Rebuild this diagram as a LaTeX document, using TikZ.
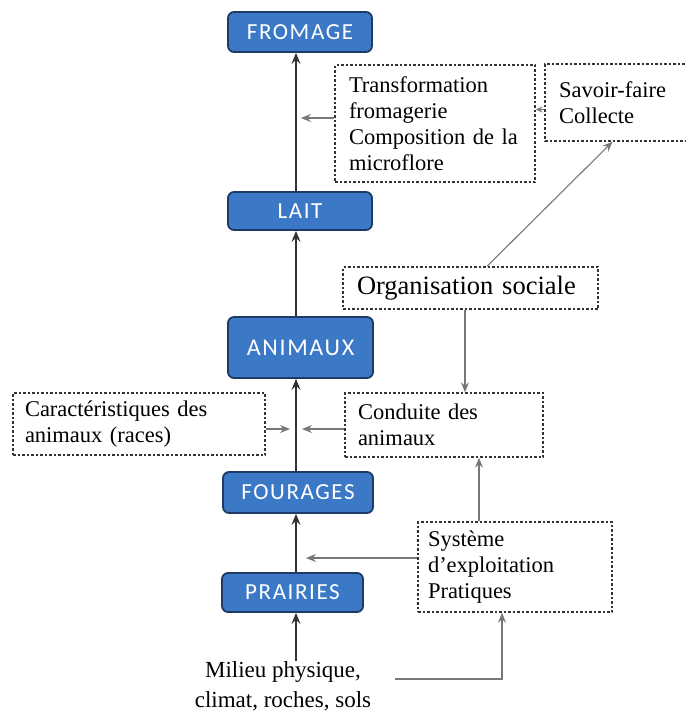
\documentclass[tikz,border=0pt]{standalone}
\usepackage{fontspec}
\setmainfont{Liberation Serif}
\newfontfamily\bluefont[LetterSpace=7]{Carlito}
\usetikzlibrary{arrows.meta,calc}
\definecolor{blueFill}{HTML}{3B79C7}
\definecolor{blueDark}{HTML}{1E3A66}
\definecolor{dotcol}{HTML}{333333}
\definecolor{lineDark}{HTML}{333333}
\definecolor{lineGray}{HTML}{777777}
\begin{document}
\begin{tikzpicture}[x=1pt,y=-1pt,
  bluebox/.style={draw=blueDark, fill=blueFill, line width=1.8pt, rounded corners=6pt,
    text=white, font=\bluefont\fontsize{23}{26}\selectfont, inner sep=0pt},
  dbox/.style={draw=dotcol, line width=1.4pt, dash pattern=on 2.5pt off 2pt,
    align=left, inner ysep=0pt, font=\fontsize{22.5}{26}\selectfont},
  mainarr/.style={draw=lineDark, line width=1.4pt, -{Stealth[length=11pt,width=9pt,inset=4pt]}},
  sidearr/.style={draw=lineGray, line width=1.1pt, -{Stealth[length=10pt,width=8pt,inset=3.5pt]}},
]
\fill[white] (0,0) rectangle (686,713);
\useasboundingbox (0,0) rectangle (686,713);

% main blue boxes
\node[bluebox, minimum width=144pt, minimum height=40pt] (fromage) at (300,32) {FROMAGE};
\node[bluebox, minimum width=144pt, minimum height=38pt] (lait) at (300,211) {LAIT};
\node[bluebox, minimum width=145pt, minimum height=61pt, font=\bluefont\fontsize{24}{27}\selectfont] (animaux) at (300.5,347.5) {ANIMAUX};
\node[bluebox, minimum width=150pt, minimum height=41pt] (fourages) at (298,492.5) {FOURAGES};
\node[bluebox, minimum width=141pt, minimum height=39pt] (prairies) at (292.5,592.5) {PRAIRIES};

% dotted boxes
\node[dbox, text width=172pt, inner xsep=14pt, minimum height=117pt] (trans) at (435,123.5)
  {Transformation\\fromagerie\\Composition de la\\microflore};
\node[dbox, text width=127pt, inner xsep=14pt, minimum height=77pt] (savoir) at (622.5,102.5)
  {Savoir-faire\\Collecte};
\node[dbox, text width=227pt, inner xsep=14pt, minimum height=42pt, font=\fontsize{26.5}{30}\selectfont] (org) at (470.5,288)
  {Organisation sociale};
\node[dbox, text width=228pt, inner xsep=12pt, minimum height=62pt] (caract) at (139,424)
  {Caractéristiques des\\animaux (races)};
\node[dbox, text width=172pt, inner xsep=13pt, minimum height=64pt] (conduite) at (444,425)
  {Conduite des\\animaux};
\node[dbox, text width=174pt, inner xsep=10pt, minimum height=90pt] (systeme) at (515,567)
  {Système\\d’exploitation\\Pratiques};
\node[align=center, font=\fontsize{23}{30}\selectfont, inner sep=0pt] (milieu) at (283,686)
  {Milieu physique,\\climat, roches, sols};

% spine coordinates
\coordinate (spine) at (296,0);
\coordinate (oc) at (465,0);
\coordinate (sc) at (479,0);
\coordinate (ms) at (502,0);

% main arrows
\draw[mainarr] (milieu.north -| spine) -- (prairies.south -| spine);
\draw[mainarr] (prairies.north -| spine) -- (fourages.south -| spine);
\draw[mainarr] (fourages.north -| spine) -- (animaux.south -| spine);
\draw[mainarr] (animaux.north -| spine) -- (lait.south -| spine);
\draw[mainarr] (lait.north -| spine) -- (fromage.south -| spine);

% side arrows
\coordinate (tA) at ([yshift=5.5pt]trans.west);
\draw[sidearr, shorten >=5pt] (tA) -- (tA -| spine);
\coordinate (sA) at ([yshift=-7pt]savoir.west);
\draw[sidearr, -{Stealth[length=7pt,width=6pt,inset=2.5pt]}] (sA) -- (sA -| trans.east);
\draw[sidearr] ([xshift=16.5pt]org.north) -- ([xshift=-10pt]savoir.south);
\draw[sidearr] (org.south -| oc) -- (conduite.north -| oc);
\draw[sidearr] (systeme.north -| sc) -- (conduite.south -| sc);
\coordinate (cA) at ([yshift=-4pt]conduite.west);
\draw[sidearr, shorten >=6pt] (cA) -- (cA -| spine);
\coordinate (kA) at ([yshift=-5pt]caract.east);
\draw[sidearr, shorten >=6pt] (kA) -- (kA -| spine);
\coordinate (yA) at ([yshift=9pt]systeme.west);
\draw[sidearr, shorten >=10pt] (yA) -- (yA -| spine);
\coordinate (mA) at ([yshift=7pt,xshift=24pt]milieu.east);
\draw[sidearr] (mA) -| (systeme.south -| ms);
\end{tikzpicture}
\end{document}
